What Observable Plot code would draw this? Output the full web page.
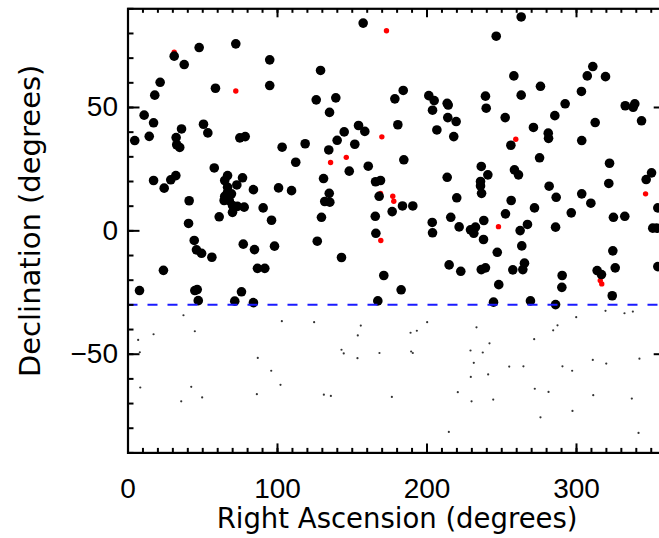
<!DOCTYPE html>
<html><head><meta charset="utf-8">
<script src="https://cdn.jsdelivr.net/npm/d3@7"></script>
<script src="https://cdn.jsdelivr.net/npm/@observablehq/plot@0.6"></script>
<style>html,body{margin:0;padding:0;overflow:hidden;background:#fff;}</style>
</head><body><div id="chart"></div>
<script>
// Large black sources (Dec > -30)
const blackRA = [30.9,47.6,72.1,37.6,94.8,21.5,17.9,58.5,94.8,10.8,17.1,35.8,50.5,53.4,4.5,14.2,32.2,32.6,34.6,74.8,78.4,103.1,118.5,112.2,
157.3,128.8,125.9,139.0,134.8,184.1,178.5,201.2,204.8,203.7,213.5,214.2,213.9,219.5,206.6,217.9,180.5,154.2,158.4,144.6,139.9,151.7,134.3,
263.0,246.3,310.9,307.2,319.4,258.1,275.9,303.3,239.1,263.0,239.6,292.4,285.5,252.3,332.6,339.0,337.9,312.5,343.5,271.2,281.1,281.3,303.5,256.1,
17.1,28.6,32.0,24.2,57.7,66.6,64.7,76.6,72.8,66.6,66.6,64.7,69.2,67.7,69.9,73.2,77.7,69.9,64.3,83.9,100.7,109.4,40.9,90.4,96.0,61.0,40.5,44.3,45.8,49.2,56.1,77.1,84.6,98.0,23.7,86.6,91.5,7.7,44.7,46.3,47.0,75.9,71.4,83.9,
184.5,160.7,148.0,130.8,213.5,165.6,168.9,134.6,131.6,135.0,168.0,219.9,183.6,190.5,176.7,129.4,165.4,215.9,203.5,203.7,221.5,229.1,231.3,232.4,165.8,126.6,142.8,214.8,222.6,171.1,182.7,167.1,
236.3,240.7,235.8,235.8,236.5,275.3,258.5,261.2,256.3,281.7,286.4,322.1,321.6,346.6,350.2,303.5,309.6,271.9,252.5,296.5,324.7,332.3,354.4,238.0,267.2,262.3,286.0,351.0,353.7,237.8,263.4,247.0,324.3,265.2,264.1,257.4,239.1,236.3,325.9,354.4,290.4,290.2,313.8,316.7,248.0,323.9,244.5,269.2,286.0];
const blackDec = [70.8,74.3,75.8,67.4,69.3,60.2,55.0,57.8,58.9,46.9,43.8,41.3,43.2,39.7,36.6,38.3,37.8,34.9,33.8,37.7,38.2,33.9,35.3,27.8,
84.2,65.0,53.1,53.9,48.0,56.9,53.5,54.8,52.8,48.9,51.7,51.0,45.9,44.3,40.9,38.2,43.0,42.7,40.3,40.1,36.7,35.1,32.8,
86.7,78.9,66.6,62.8,62.5,62.8,58.6,56.5,54.6,55.0,49.7,51.5,46.7,45.9,50.7,51.5,50.1,43.9,44.6,41.9,39.6,37.5,36.6,34.7,
20.4,20.7,22.4,17.3,25.5,22.4,20.4,21.5,18.6,17.7,15.6,14.0,15.0,12.3,10.3,9.9,9.6,7.5,12.3,16.7,17.4,16.3,12.2,9.3,4.3,5.7,3.0,-3.9,-7.7,-9.1,-10.7,-5.4,-7.6,-6.2,-16.0,-15.2,-15.2,-24.2,-24.2,-23.8,-28.3,-24.7,-28.5,-29.1,
28.8,26.2,24.2,21.2,21.7,19.9,20.4,15.2,11.9,11.6,14.0,13.4,10.1,10.1,7.8,5.5,5.9,5.5,3.4,-0.8,1.6,0.4,-1.0,1.5,-1.0,-4.2,-10.8,-13.8,-16.4,-18.1,-23.9,-28.4,
26.1,22.7,20.0,18.2,15.2,29.6,24.7,22.7,12.3,18.1,13.6,27.4,19.2,20.8,23.5,15.0,11.2,9.3,6.9,7.3,5.5,5.9,9.3,4.2,2.6,0.1,1.5,1.1,1.1,-3.5,-6.1,-8.7,-8.1,-13.1,-15.7,-15.8,-15.0,-15.7,-15.0,-14.5,-18.1,-22.9,-16.1,-17.7,-21.8,-26.3,-28.9,-28.4,-29.9];

// Red sources
const redRA  = [30.9,72.1,172.9,169.8,146.0,135.5,259.4,168.9,177.1,177.8,169.1,247.8,346.2,315.9,316.9];
const redDec = [72.4,56.7,81.1,38.1,29.8,27.7,37.1,15.2,14.0,12.0,-3.9,1.7,15.0,-20.1,-21.5];

// Small sources (Dec < -30)
const smallRA  = [37.1,6.8,7.9,17.1,44.7,8.2,42.3,35.6,49.6,102.9,86.8,95.8,102.0,86.2,124.5,155.7,153.7,142.8,144.3,153.5,168.2,200.1,189.0,193.2,189.4,190.5,233.1,229.1,231.3,229.3,220.6,229.8,131.0,135.7,176.5,214.6,299.8,287.3,284.4,271.7,241.8,237.3,240.9,244.3,255.0,264.5,272.1,281.3,275.9,290.6,297.1,297.3,319.4,332.1,337.7,310.9,319.9,342.1,311.2,337.0,341.5];
const smallDec = [-34.2,-44.2,-49.2,-41.9,-40.7,-63.5,-63.2,-69.1,-67.5,-36.6,-51.5,-56.7,-62.4,-66.2,-37.0,-38.4,-42.4,-48.2,-49.7,-51.6,-49.5,-37.0,-41.3,-40.5,-48.9,-49.5,-39.1,-48.5,-53.5,-59.2,-65.4,-69.1,-66.4,-66.9,-67.3,-81.5,-35.0,-38.3,-40.3,-43.9,-45.6,-49.3,-58.2,-68.4,-55.0,-54.9,-64.0,-65.3,-75.6,-54.9,-56.7,-73.0,-32.4,-33.4,-32.7,-52.3,-53.8,-51.8,-66.6,-68.0,-81.9];

const xMajor = [0, 100, 200, 300];
const xMinor = d3.range(0, 361, 10);
const yMajor = [-50, 0, 50];
const yMinor = d3.range(-90, 91, 10);
const xDomain = [0, 360];
const yDomain = [-90, 90];
const cutoffDec = -30;
const xTitle = "Right Ascension (degrees)";
const yTitle = "Declination (degrees)";

const black = blackRA.map((ra, i) => ({ra, dec: blackDec[i]}));
const red = redRA.map((ra, i) => ({ra, dec: redDec[i]}));
const small = smallRA.map((ra, i) => ({ra, dec: smallDec[i]}));

// layout
const W = 672, H = 538, mL = 127.5, mR = 6.3, mT = 8.3, mB = 85.6;
const pxPerX = (W - mL - mR) / (xDomain[1] - xDomain[0]);
const pxPerY = (H - mT - mB) / (yDomain[1] - yDomain[0]);

const tickFont = "Liberation Sans, Arial, sans-serif";
const titleFont = "DejaVu Sans, sans-serif";
const tickStroke = {stroke: "black", strokeWidth: 2};

// inward ticks on all four sides (lengths in pixels, converted to data units)
const xTicks = (vals, len) => [
  Plot.ruleX(vals, {x: d => d, y1: yDomain[0], y2: yDomain[0] + len / pxPerY, ...tickStroke}),
  Plot.ruleX(vals, {x: d => d, y1: yDomain[1], y2: yDomain[1] - len / pxPerY, ...tickStroke})
];
const yTicks = (vals, len) => [
  Plot.ruleY(vals, {y: d => d, x1: xDomain[0], x2: xDomain[0] + len / pxPerX, ...tickStroke}),
  Plot.ruleY(vals, {y: d => d, x1: xDomain[1], x2: xDomain[1] - len / pxPerX, ...tickStroke})
];

const chart = Plot.plot({
  width: W, height: H,
  marginLeft: mL, marginRight: mR, marginTop: mT, marginBottom: mB,
  style: {maxWidth: "none", background: "white", color: "black"},
  x: {domain: xDomain},
  y: {domain: yDomain},
  marks: [
    Plot.dot(small, {x: "ra", y: "dec", r: 1.1, fill: "#333"}),
    Plot.dot(red, {x: "ra", y: "dec", r: 2.7, fill: "#ff0000"}),
    Plot.dot(black, {x: "ra", y: "dec", r: 4.8, fill: "black"}),
    Plot.ruleY([cutoffDec], {stroke: "#1a1aff", strokeWidth: 2, strokeDasharray: "10,10"}),
    ...xTicks(xMinor, 4.5),
    ...xTicks(xMajor, 9),
    ...yTicks(yMinor, 6),
    ...yTicks(yMajor, 12),
    Plot.frame({stroke: "black", strokeWidth: 2.2}),
    Plot.axisX({ticks: xMajor, tickSize: 0, tickPadding: 25, label: null, fontSize: 28, fontFamily: tickFont}),
    Plot.axisY({ticks: yMajor, tickSize: 0, tickPadding: 10, label: null, fontSize: 28, fontFamily: tickFont}),
    Plot.text([xTitle], {frameAnchor: "bottom", dy: 66, lineAnchor: "middle", fontSize: 27.5, fontFamily: titleFont}),
    Plot.text([yTitle], {frameAnchor: "left", rotate: -90, textAnchor: "middle", lineAnchor: "middle", dx: -97.5, dy: -10, fontSize: 29, fontFamily: titleFont})
  ]
});
document.getElementById("chart").appendChild(chart);
</script>
</body></html>
